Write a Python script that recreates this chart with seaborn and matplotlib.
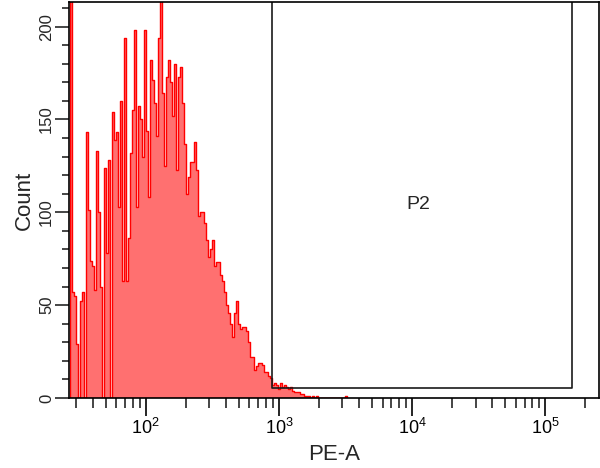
import numpy as np
import pandas as pd
import matplotlib
matplotlib.use('Agg')
import matplotlib.pyplot as plt
import seaborn as sns
from matplotlib.ticker import LogLocator, FuncFormatter, MultipleLocator, NullFormatter

# histogram channels: log10 of the first channel edge and channel width (log10 units)
log_start = 1.43
log_step = 0.015

# event counts per channel
counts = [
    400, 57, 55, 29, 0, 52, 57, 0, 143, 101,
    74, 71, 58, 133, 100, 60, 0, 124, 78, 128,
    0, 154, 139, 143, 103, 160, 63, 194, 63, 86,
    132, 155, 198, 103, 157, 150, 130, 198, 144, 108,
    182, 171, 159, 141, 194, 230, 164, 125, 173, 182,
    170, 152, 180, 123, 173, 178, 159, 137, 110, 119,
    127, 127, 138, 123, 98, 100, 100, 94, 85, 76,
    80, 85, 71, 73, 73, 66, 63, 57, 50, 46,
    40, 33, 46, 52, 40, 37, 38, 38, 36, 30,
    22, 22, 15, 17, 19, 19, 18, 14, 14, 12,
    11, 7, 8, 7, 5, 8, 6, 7, 6, 5,
    6, 4, 3, 3, 3, 2, 2, 1, 1, 1,
    0, 1, 0, 1, 0, 0, 0, 0, 0, 0,
    0, 0, 0, 0, 0, 0, 0, 0, 1,
]

# interval gate P2
gate_name = 'P2'
gate_low = 885
gate_high = 158500
gate_level = 5.4
gate_label_pos = (11200, 104)

x_min = 10 ** 1.428
x_max = 10 ** 5.3994
y_max = 213
y_ticks = [0, 50, 100, 150, 200]

edges_log = log_start + log_step * np.arange(len(counts) + 1)
centers = 10 ** (edges_log[:-1] + log_step / 2)
df = pd.DataFrame({'PE-A': centers, 'Count': counts})

sns.set_style('ticks')
plt.rcParams['font.family'] = ['Liberation Sans', 'DejaVu Sans']
plt.rcParams['mathtext.fontset'] = 'custom'
plt.rcParams['mathtext.rm'] = 'Liberation Sans'

fig = plt.figure(figsize=(6, 4.68), dpi=100)
ax = fig.add_axes([0.1158, 0.1496, 0.8817, 0.8451])

sns.histplot(data=df, x='PE-A', weights='Count', bins=list(edges_log), log_scale=True,
             element='step', fill=True, color='#FF0000', alpha=0.56,
             linewidth=1.0, ax=ax)

# gate outline
ax.plot([gate_low, gate_low, gate_high, gate_high],
        [y_max + 10, gate_level, gate_level, y_max + 10],
        color='#1a1a1a', lw=1.2)
ax.text(gate_label_pos[0], gate_label_pos[1], gate_name, fontsize=14,
        ha='center', va='center')

ax.set_xlim(x_min, x_max)
ax.set_ylim(0, y_max)

ax.xaxis.set_major_locator(LogLocator(base=10, numticks=10))
ax.xaxis.set_minor_locator(LogLocator(base=10, subs=np.arange(2, 10), numticks=20))
ax.xaxis.set_minor_formatter(NullFormatter())
ax.xaxis.set_major_formatter(FuncFormatter(
    lambda v, p: r'$\mathregular{10^{%d}}$' % round(np.log10(v))))

ax.set_yticks(y_ticks)
ax.yaxis.set_minor_locator(MultipleLocator(10))

ax.tick_params(axis='x', which='major', direction='out', length=13, width=1.2,
               labelsize=13, pad=1, colors='black')
ax.tick_params(axis='x', which='minor', direction='out', length=7, width=1.2)
ax.tick_params(axis='y', which='major', direction='out', length=10, width=1.2,
               labelsize=12, pad=1, labelrotation=90)
ax.tick_params(axis='y', which='minor', direction='out', length=5, width=1.2)
for lab in ax.get_yticklabels():
    lab.set_va('center')

for side in ['left', 'right', 'top', 'bottom']:
    ax.spines[side].set_visible(True)
    ax.spines[side].set_color('black')
    ax.spines[side].set_linewidth(1.2)

ax.set_xlabel('PE-A', fontsize=16, labelpad=5)
ax.set_ylabel('Count', fontsize=16, labelpad=3)

fig.savefig('out.png', dpi=100)
